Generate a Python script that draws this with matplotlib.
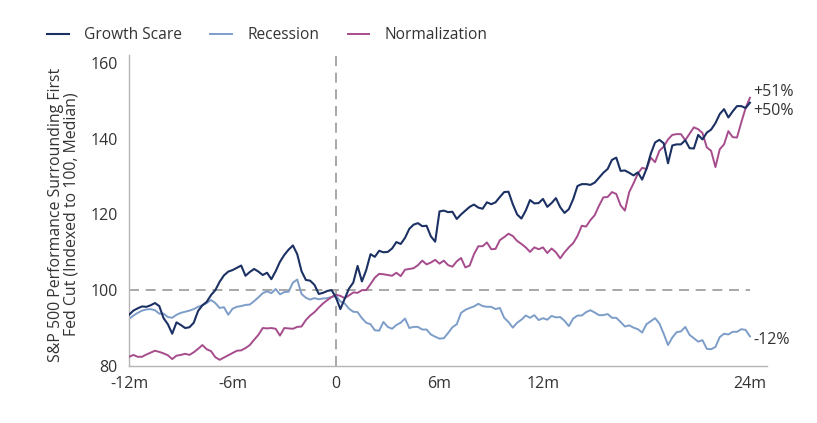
import matplotlib.pyplot as plt
import numpy as np

# S&P 500 around the first Fed cut, median path (index = 100 at the cut)
months = np.arange(-12, 24.01, 0.25)

growth_scare = [
    93.5, 94.6, 95.2, 95.7, 95.6, 96.0, 96.6, 95.8, 92.6, 91.0,
    88.5, 91.5, 90.8, 90.0, 90.2, 91.4, 94.5, 96.0, 96.9, 98.7,
    100.0, 102.2, 103.9, 104.9, 105.3, 105.9, 106.5, 103.8, 104.8, 105.6,
    104.9, 104.0, 104.6, 102.9, 105.0, 107.5, 109.3, 110.7, 111.8, 109.5,
    105.0, 102.7, 102.5, 101.4, 99.0, 99.3, 99.8, 100.0, 98.0, 95.0,
    97.7, 100.4, 102.0, 106.4, 102.3, 105.3, 109.5, 108.8, 110.4, 110.0,
    110.1, 111.0, 112.7, 112.2, 113.8, 116.2, 117.3, 117.7, 116.9, 117.0,
    114.2, 112.8, 120.8, 121.0, 120.6, 120.7, 118.8, 120.0, 121.0, 122.0,
    122.6, 121.8, 121.5, 123.2, 122.7, 123.2, 124.6, 125.9, 126.0, 122.7,
    120.0, 118.9, 121.0, 123.8, 122.9, 123.0, 124.1, 122.0, 123.0, 124.3,
    121.9, 120.4, 121.4, 124.0, 127.5, 128.0, 128.0, 127.8, 128.4, 129.7,
    131.0, 132.0, 134.4, 135.0, 131.5, 131.6, 131.0, 130.3, 131.1, 129.2,
    132.0, 136.0, 139.0, 139.7, 138.8, 133.5, 138.2, 138.5, 138.5, 139.6,
    137.5, 137.4, 141.0, 139.8, 141.6, 142.4, 144.1, 146.5, 147.8, 145.6,
    147.2, 148.6, 148.6, 148.1, 149.5,
]

recession = [
    92.4, 93.3, 94.0, 94.6, 94.9, 95.0, 94.7, 93.8, 93.8, 92.9,
    92.7, 93.5, 94.0, 94.3, 94.6, 95.0, 95.6, 96.0, 96.6, 97.4,
    96.6, 95.3, 95.5, 93.5, 95.1, 95.6, 95.8, 96.1, 96.2, 97.1,
    98.1, 99.2, 99.7, 99.2, 100.3, 98.9, 99.5, 99.6, 102.0, 102.8,
    99.0, 98.0, 97.5, 97.9, 97.6, 97.8, 97.9, 98.2, 98.5, 97.0,
    96.5, 95.1, 94.3, 94.2, 92.6, 91.4, 91.0, 89.4, 89.3, 91.6,
    90.3, 89.8, 90.8, 91.4, 92.5, 90.0, 90.3, 90.3, 89.6, 89.6,
    88.3, 87.7, 87.2, 87.3, 88.7, 90.2, 91.0, 94.0, 94.8, 95.3,
    95.7, 96.4, 95.8, 95.6, 95.6, 95.0, 95.3, 92.7, 91.6, 90.1,
    91.4, 92.2, 93.3, 92.7, 93.4, 92.1, 92.6, 92.2, 93.2, 92.8,
    92.9, 91.9, 90.5, 92.5, 93.3, 93.3, 94.2, 94.7, 94.1, 93.4,
    93.4, 93.7, 92.7, 92.7, 91.6, 90.4, 90.7, 90.1, 89.7, 88.8,
    91.0, 91.8, 92.6, 91.2, 88.5, 85.5, 87.5, 88.9, 89.1, 90.3,
    88.2, 87.3, 86.4, 86.8, 84.5, 84.4, 85.0, 87.6, 88.5, 88.3,
    89.0, 89.0, 89.7, 89.5, 87.8,
]

normalization = [
    82.4, 82.9, 82.4, 82.4, 83.0, 83.5, 84.0, 83.7, 83.3, 82.8,
    81.8, 82.7, 82.9, 83.2, 82.9, 83.6, 84.5, 85.5, 84.4, 83.9,
    82.3, 81.6, 82.2, 82.8, 83.4, 84.0, 84.1, 84.7, 85.5, 86.9,
    88.2, 90.0, 89.9, 90.0, 89.8, 88.0, 90.0, 89.9, 89.8, 90.3,
    90.4, 92.1, 93.3, 94.2, 95.4, 96.5, 97.4, 98.2, 98.8, 98.5,
    97.9, 98.6, 99.4, 99.3, 100.0, 100.0, 101.6, 103.3, 104.3, 104.2,
    104.0, 103.8, 104.6, 103.7, 105.4, 105.6, 105.8, 106.6, 107.8, 106.8,
    107.3, 108.0, 107.0, 107.8, 106.6, 106.2, 107.6, 108.5, 106.0, 106.5,
    109.5, 111.6, 111.6, 112.6, 110.8, 110.9, 113.2, 114.0, 114.9, 114.3,
    113.0, 112.2, 111.3, 110.1, 111.3, 110.8, 111.3, 109.8, 111.0, 110.0,
    108.4, 110.0, 111.3, 112.4, 114.3, 117.0, 116.8, 118.5, 119.8, 122.3,
    124.5, 124.6, 125.9, 125.4, 122.4, 121.0, 125.9, 128.2, 130.8, 132.3,
    132.0, 135.0, 133.8, 136.8, 137.9, 139.8, 141.0, 141.2, 141.2, 139.6,
    141.3, 143.0, 142.5, 141.5, 137.7, 136.8, 132.5, 137.2, 138.5, 142.0,
    140.4, 140.3, 144.3, 148.1, 150.8,
]

xtick_pos = [-12, -6, 0, 6, 12, 24]
xtick_lab = ['-12m', '-6m', '0', '6m', '12m', '24m']
ytick_pos = [80, 100, 120, 140, 160]
end_text = ['+51%', '+50%', '-12%']
end_y = [152.3, 147.2, 86.9]

plt.rcParams['font.family'] = ['Open Sans', 'DejaVu Sans']
txt = '#333333'

fig = plt.figure(figsize=(8.17, 4.23), dpi=100)
ax = fig.add_axes([0.158, 0.135, 0.781, 0.735])

ax.axhline(100, color='#9a9a9a', lw=1.2, ls=(0, (6, 4)), xmax=36 / 37, zorder=1)
ax.axvline(0, color='#9a9a9a', lw=1.2, ls=(0, (6, 4)), zorder=1)

ax.plot(months, recession, color='#7d9dc9', lw=1.4, label='Recession', zorder=2)
ax.plot(months, normalization, color='#a64c8d', lw=1.4, label='Normalization', zorder=3)
ax.plot(months, growth_scare, color='#1c3163', lw=1.5, label='Growth Scare', zorder=4)

for t, yv in zip(end_text, end_y):
    ax.text(24.2, yv, t, fontsize=11.5, color=txt, ha='left', va='center')

ax.set_xlim(-12, 25)
ax.set_ylim(80, 162.1)
ax.set_xticks(xtick_pos)
ax.set_xticklabels(xtick_lab)
ax.set_yticks(ytick_pos)
ax.tick_params(axis='both', length=0, labelsize=11.5, colors=txt)
ax.tick_params(axis='y', pad=8)
ax.tick_params(axis='x', pad=7)
for s in ['top', 'right']:
    ax.spines[s].set_visible(False)
for s in ['left', 'bottom']:
    ax.spines[s].set_color('#b5b5b5')
    ax.spines[s].set_linewidth(1.0)

fig.text(0.078, 0.493, 'S&P 500 Performance Surrounding First\nFed Cut (Indexed to 100, Median)',
         rotation=90, ha='center', va='center', multialignment='center',
         fontsize=11.4, color=txt, linespacing=1.0)

h, l = ax.get_legend_handles_labels()
order = [2, 0, 1]
fig.legend([h[i] for i in order], [l[i] for i in order], loc='center left',
           bbox_to_anchor=(0.048, 1 - 35 / 423), ncol=3, frameon=False,
           fontsize=11.2, handlelength=1.4, handletextpad=1.0,
           columnspacing=1.8, borderpad=0, labelcolor=txt)

fig.savefig('out.png', dpi=100)
